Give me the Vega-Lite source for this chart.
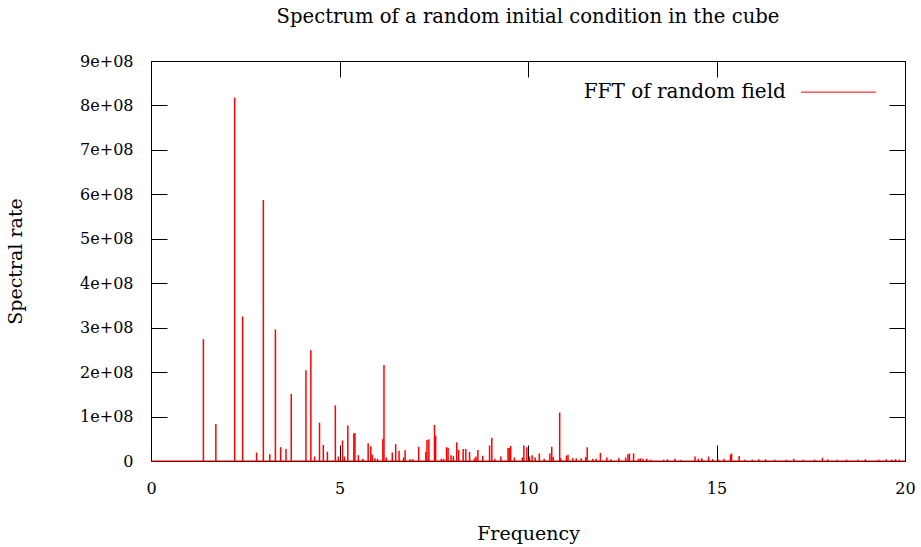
{
  "$schema": "https://vega.github.io/schema/vega-lite/v6.json",
  "width": 754,
  "height": 400,
  "autosize": {"type": "none"},
  "padding": {"left": 151, "top": 61, "right": 16, "bottom": 86},
  "background": "white",
  "config": {
    "view": {"stroke": "black", "strokeWidth": 1},
    "font": "DejaVu Serif",
    "axis": {"grid": false, "domainColor": "black", "tickColor": "black", "labelColor": "black", "titleColor": "black", "labelFont": "DejaVu Serif", "titleFont": "DejaVu Serif", "labelFontSize": 16, "titleFontSize": 19, "titleFontWeight": "normal", "tickSize": -16}
  },
  "title": {"text": "Spectrum of a random initial condition in the cube", "font": "DejaVu Serif", "fontSize": 19.6, "fontWeight": "normal", "color": "black", "offset": 25},
  "data": {"values": [
    {"freq": 1.39, "rate": 274000000}, {"freq": 1.72, "rate": 83000000}, {"freq": 2.22, "rate": 818000000},
    {"freq": 2.43, "rate": 325000000}, {"freq": 2.80, "rate": 19000000}, {"freq": 2.98, "rate": 587000000},
    {"freq": 3.15, "rate": 15000000}, {"freq": 3.30, "rate": 296000000}, {"freq": 3.44, "rate": 31000000},
    {"freq": 3.58, "rate": 27000000}, {"freq": 3.72, "rate": 151000000}, {"freq": 4.11, "rate": 204000000},
    {"freq": 4.24, "rate": 249000000}, {"freq": 4.34, "rate": 10000000}, {"freq": 4.47, "rate": 86000000},
    {"freq": 4.57, "rate": 36000000}, {"freq": 4.68, "rate": 21000000}, {"freq": 4.89, "rate": 125000000},
    {"freq": 4.97, "rate": 10000000}, {"freq": 5.08, "rate": 46000000}, {"freq": 5.13, "rate": 10000000},
    {"freq": 5.22, "rate": 80000000}, {"freq": 5.38, "rate": 62000000}, {"freq": 5.41, "rate": 63000000},
    {"freq": 5.50, "rate": 13000000}, {"freq": 5.62, "rate": 5000000}, {"freq": 5.76, "rate": 40000000},
    {"freq": 5.83, "rate": 33000000}, {"freq": 5.87, "rate": 14000000}, {"freq": 5.94, "rate": 6000000},
    {"freq": 6.01, "rate": 5000000}, {"freq": 6.15, "rate": 49000000}, {"freq": 6.18, "rate": 216000000},
    {"freq": 6.24, "rate": 8000000}, {"freq": 6.40, "rate": 19000000}, {"freq": 6.49, "rate": 38000000},
    {"freq": 6.58, "rate": 23000000}, {"freq": 6.70, "rate": 8000000}, {"freq": 6.74, "rate": 24000000},
    {"freq": 6.87, "rate": 4000000}, {"freq": 6.94, "rate": 4000000}, {"freq": 7.10, "rate": 32000000},
    {"freq": 7.29, "rate": 20000000}, {"freq": 7.32, "rate": 47000000}, {"freq": 7.37, "rate": 49000000},
    {"freq": 7.52, "rate": 81000000}, {"freq": 7.55, "rate": 57000000}, {"freq": 7.70, "rate": 5000000},
    {"freq": 7.76, "rate": 5000000}, {"freq": 7.84, "rate": 31000000}, {"freq": 7.88, "rate": 30000000},
    {"freq": 7.96, "rate": 13000000}, {"freq": 8.02, "rate": 11000000}, {"freq": 8.11, "rate": 42000000},
    {"freq": 8.16, "rate": 25000000}, {"freq": 8.28, "rate": 27000000}, {"freq": 8.35, "rate": 27000000},
    {"freq": 8.45, "rate": 20000000}, {"freq": 8.58, "rate": 6000000}, {"freq": 8.62, "rate": 10000000},
    {"freq": 8.67, "rate": 25000000}, {"freq": 8.80, "rate": 12000000}, {"freq": 8.98, "rate": 35000000},
    {"freq": 9.04, "rate": 52000000}, {"freq": 9.12, "rate": 5000000}, {"freq": 9.28, "rate": 10000000},
    {"freq": 9.47, "rate": 29000000}, {"freq": 9.51, "rate": 29000000}, {"freq": 9.54, "rate": 34000000},
    {"freq": 9.64, "rate": 8000000}, {"freq": 9.85, "rate": 8000000}, {"freq": 9.89, "rate": 35000000},
    {"freq": 9.97, "rate": 31000000}, {"freq": 10.04, "rate": 10000000}, {"freq": 10.11, "rate": 13000000},
    {"freq": 10.19, "rate": 8000000}, {"freq": 10.30, "rate": 17000000}, {"freq": 10.43, "rate": 5000000},
    {"freq": 10.58, "rate": 17000000}, {"freq": 10.63, "rate": 32000000}, {"freq": 10.67, "rate": 9000000},
    {"freq": 10.84, "rate": 109000000}, {"freq": 10.87, "rate": 6000000}, {"freq": 11.02, "rate": 12000000},
    {"freq": 11.06, "rate": 14000000}, {"freq": 11.19, "rate": 7000000}, {"freq": 11.28, "rate": 6000000},
    {"freq": 11.41, "rate": 6000000}, {"freq": 11.53, "rate": 9000000}, {"freq": 11.57, "rate": 31000000},
    {"freq": 11.72, "rate": 5000000}, {"freq": 11.81, "rate": 5000000}, {"freq": 11.92, "rate": 18000000},
    {"freq": 12.09, "rate": 8000000}, {"freq": 12.20, "rate": 4000000}, {"freq": 12.41, "rate": 7000000},
    {"freq": 12.59, "rate": 8000000}, {"freq": 12.65, "rate": 15000000}, {"freq": 12.69, "rate": 17000000},
    {"freq": 12.80, "rate": 17000000}, {"freq": 12.93, "rate": 5000000}, {"freq": 12.98, "rate": 6000000},
    {"freq": 13.05, "rate": 5000000}, {"freq": 13.15, "rate": 5000000}, {"freq": 13.25, "rate": 3000000},
    {"freq": 13.60, "rate": 3000000}, {"freq": 13.70, "rate": 4000000}, {"freq": 13.90, "rate": 5000000},
    {"freq": 14.05, "rate": 2000000}, {"freq": 14.43, "rate": 10000000}, {"freq": 14.52, "rate": 5000000},
    {"freq": 14.61, "rate": 6000000}, {"freq": 14.79, "rate": 10000000}, {"freq": 14.90, "rate": 4000000},
    {"freq": 15.05, "rate": 3000000}, {"freq": 15.20, "rate": 5000000}, {"freq": 15.37, "rate": 14000000},
    {"freq": 15.40, "rate": 17000000}, {"freq": 15.60, "rate": 11000000}, {"freq": 15.75, "rate": 3000000},
    {"freq": 15.95, "rate": 3000000}, {"freq": 16.12, "rate": 4000000}, {"freq": 16.30, "rate": 4000000},
    {"freq": 16.55, "rate": 3000000}, {"freq": 16.85, "rate": 3000000}, {"freq": 17.05, "rate": 5000000},
    {"freq": 17.30, "rate": 3000000}, {"freq": 17.60, "rate": 3000000}, {"freq": 17.81, "rate": 7000000},
    {"freq": 17.95, "rate": 4000000}, {"freq": 18.20, "rate": 3000000}, {"freq": 18.45, "rate": 3000000},
    {"freq": 18.75, "rate": 3000000}, {"freq": 18.95, "rate": 4000000}, {"freq": 19.30, "rate": 3000000},
    {"freq": 19.50, "rate": 4000000}, {"freq": 19.65, "rate": 3000000}, {"freq": 19.75, "rate": 4000000},
    {"freq": 19.85, "rate": 3000000}
  ]},
  "layer": [
    {
      "mark": {"type": "rule", "color": "#ff0000", "strokeWidth": 1.5},
      "encoding": {
        "x": {"field": "freq", "type": "quantitative", "scale": {"domain": [0, 20], "nice": false, "zero": false},
              "axis": {"orient": "bottom", "values": [0, 5, 10, 15, 20], "title": "Frequency", "labelPadding": 35, "titlePadding": 28, "labelFlush": false}},
        "y": {"field": "rate", "type": "quantitative", "scale": {"domain": [0, 900000000], "nice": false},
              "axis": {"orient": "left", "values": [0, 100000000, 200000000, 300000000, 400000000, 500000000, 600000000, 700000000, 800000000, 900000000],
                       "labelExpr": "datum.value == 0 ? '0' : (datum.value / 100000000) + 'e+08'", "title": "Spectral rate", "labelPadding": 34, "titlePadding": 54}},
        "y2": {"datum": 0}
      }
    },
    {
      "data": {"values": [{}]},
      "mark": {"type": "rule", "color": "#ff0000", "strokeWidth": 1.2},
      "encoding": {
        "x": {"datum": 0, "type": "quantitative", "axis": {"orient": "top", "values": [0, 5, 10, 15, 20], "labels": false, "title": null}},
        "x2": {"datum": 20},
        "y": {"datum": 0, "type": "quantitative", "axis": {"orient": "right", "values": [0, 100000000, 200000000, 300000000, 400000000, 500000000, 600000000, 700000000, 800000000, 900000000], "labels": false, "title": null}}
      }
    },
    {
      "data": {"values": [{}]},
      "mark": {"type": "text", "align": "right", "baseline": "middle", "fontSize": 20, "font": "DejaVu Serif", "color": "black"},
      "encoding": {"x": {"datum": 16.84, "type": "quantitative", "axis": null}, "y": {"datum": 830000000, "type": "quantitative", "axis": null}, "text": {"value": "FFT of random field"}}
    },
    {
      "data": {"values": [{}]},
      "mark": {"type": "rule", "color": "#ff0000", "strokeWidth": 1},
      "encoding": {"x": {"datum": 17.24, "type": "quantitative", "axis": null}, "x2": {"datum": 19.23}, "y": {"datum": 830000000, "type": "quantitative", "axis": null}}
    }
  ],
  "resolve": {"axis": {"x": "independent", "y": "independent"}}
}
